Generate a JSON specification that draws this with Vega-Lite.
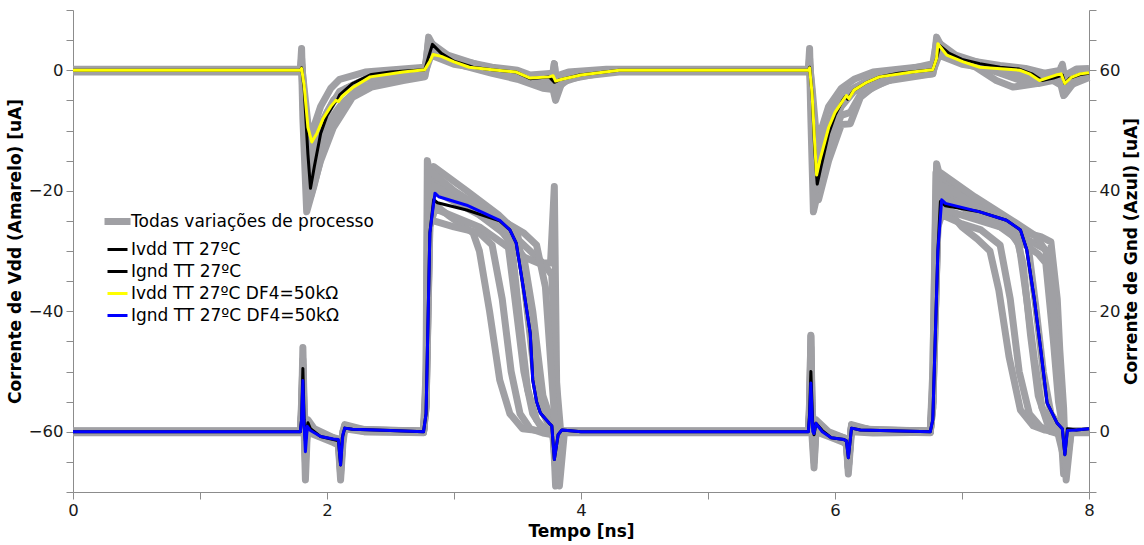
{
  "$schema": "https://vega.github.io/schema/vega-lite/v6.json",
  "width": 1016,
  "height": 482,
  "autosize": {"type": "none"},
  "padding": {"left": 73, "top": 10, "right": 55, "bottom": 53},
  "config": {
    "view": {"stroke": null},
    "font": "DejaVu Sans",
    "axis": {
      "grid": false,
      "domainColor": "#8c8c8c",
      "tickColor": "#8c8c8c",
      "tickSize": 7,
      "labelFont": "DejaVu Sans",
      "labelFontSize": 16.5,
      "labelColor": "#1a1a1a",
      "labelPadding": 3,
      "labelFlush": false,
      "labelOverlap": false,
      "titleFont": "DejaVu Sans",
      "titleFontSize": 17,
      "titleFontWeight": "bold",
      "titleColor": "#000000"
    },
    "legend": {
      "orient": "none",
      "legendX": 36,
      "legendY": 203,
      "title": null,
      "padding": 0,
      "labelFont": "DejaVu Sans",
      "labelFontSize": 17,
      "labelColor": "#000000",
      "labelLimit": 400,
      "symbolType": "stroke",
      "symbolSize": 400,
      "symbolStrokeWidth": 3,
      "rowPadding": 4,
      "labelOffset": 5
    }
  },
  "datasets": {
    "gv": [
      {"r":"G1","t":0,"i":0.1},{"r":"G1","t":1.79,"i":0.1},{"r":"G1","t":1.8,"i":3},{"r":"G1","t":1.81,"i":12},{"r":"G1","t":1.82,"i":3},{"r":"G1","t":1.83,"i":-2},{"r":"G1","t":1.85,"i":1.5},{"r":"G1","t":1.9,"i":0},{"r":"G1","t":2.05,"i":-1.5},{"r":"G1","t":2.09,"i":-2},{"r":"G1","t":2.107,"i":-7},{"r":"G1","t":2.125,"i":-1},{"r":"G1","t":2.14,"i":1},{"r":"G1","t":2.25,"i":0.4},{"r":"G1","t":2.76,"i":0.1},{"r":"G1","t":2.78,"i":5},{"r":"G1","t":2.8,"i":34},{"r":"G1","t":2.83,"i":38},{"r":"G1","t":2.95,"i":36},{"r":"G1","t":3.15,"i":33},{"r":"G1","t":3.2,"i":30},{"r":"G1","t":3.28,"i":20},{"r":"G1","t":3.36,"i":8.6},{"r":"G1","t":3.44,"i":3},{"r":"G1","t":3.54,"i":0.5},{"r":"G1","t":3.7,"i":0.1},{"r":"G1","t":3.78,"i":-0.3},{"r":"G1","t":3.8,"i":-5},{"r":"G1","t":3.83,"i":0.1},{"r":"G1","t":5.79,"i":0.1},{"r":"G1","t":5.8,"i":3},{"r":"G1","t":5.81,"i":14},{"r":"G1","t":5.82,"i":3},{"r":"G1","t":5.835,"i":-2},{"r":"G1","t":5.85,"i":1.5},{"r":"G1","t":5.9,"i":0},{"r":"G1","t":6.07,"i":-1.5},{"r":"G1","t":6.09,"i":-2},{"r":"G1","t":6.105,"i":-6},{"r":"G1","t":6.13,"i":1},{"r":"G1","t":6.25,"i":0.4},{"r":"G1","t":6.75,"i":0.1},{"r":"G1","t":6.77,"i":5},{"r":"G1","t":6.8,"i":33},{"r":"G1","t":6.84,"i":38},{"r":"G1","t":7.0,"i":34},{"r":"G1","t":7.12,"i":32},{"r":"G1","t":7.22,"i":30},{"r":"G1","t":7.29,"i":23.5},{"r":"G1","t":7.37,"i":12.5},{"r":"G1","t":7.46,"i":3.6},{"r":"G1","t":7.56,"i":1},{"r":"G1","t":7.65,"i":0.3},{"r":"G1","t":7.78,"i":0.1},{"r":"G1","t":7.81,"i":-4},{"r":"G1","t":7.84,"i":0.1},{"r":"G1","t":8,"i":0.1},
      {"r":"G2","t":0,"i":-0.1},{"r":"G2","t":1.79,"i":-0.1},{"r":"G2","t":1.8,"i":2},{"r":"G2","t":1.81,"i":7},{"r":"G2","t":1.82,"i":0},{"r":"G2","t":1.83,"i":-8},{"r":"G2","t":1.845,"i":0},{"r":"G2","t":1.9,"i":-0.5},{"r":"G2","t":2.05,"i":-1.8},{"r":"G2","t":2.09,"i":-2.2},{"r":"G2","t":2.107,"i":-8},{"r":"G2","t":2.125,"i":-2},{"r":"G2","t":2.14,"i":0.5},{"r":"G2","t":2.3,"i":0},{"r":"G2","t":2.76,"i":-0.1},{"r":"G2","t":2.78,"i":4},{"r":"G2","t":2.81,"i":35},{"r":"G2","t":2.84,"i":35},{"r":"G2","t":3.0,"i":34},{"r":"G2","t":3.2,"i":33},{"r":"G2","t":3.3,"i":31},{"r":"G2","t":3.38,"i":22},{"r":"G2","t":3.45,"i":10},{"r":"G2","t":3.52,"i":3},{"r":"G2","t":3.6,"i":0.5},{"r":"G2","t":3.7,"i":-0.2},{"r":"G2","t":3.78,"i":-0.5},{"r":"G2","t":3.8,"i":-3},{"r":"G2","t":3.83,"i":-0.1},{"r":"G2","t":5.79,"i":-0.1},{"r":"G2","t":5.8,"i":2},{"r":"G2","t":5.81,"i":9},{"r":"G2","t":5.82,"i":-1},{"r":"G2","t":5.835,"i":-6},{"r":"G2","t":5.85,"i":0},{"r":"G2","t":5.95,"i":-0.8},{"r":"G2","t":6.07,"i":-1.8},{"r":"G2","t":6.09,"i":-2.2},{"r":"G2","t":6.105,"i":-7},{"r":"G2","t":6.13,"i":0},{"r":"G2","t":6.3,"i":-0.2},{"r":"G2","t":6.75,"i":-0.1},{"r":"G2","t":6.77,"i":4},{"r":"G2","t":6.81,"i":34},{"r":"G2","t":6.84,"i":36},{"r":"G2","t":7.0,"i":34.5},{"r":"G2","t":7.15,"i":33.5},{"r":"G2","t":7.3,"i":31},{"r":"G2","t":7.38,"i":22},{"r":"G2","t":7.45,"i":10},{"r":"G2","t":7.53,"i":3},{"r":"G2","t":7.62,"i":0.8},{"r":"G2","t":7.7,"i":0},{"r":"G2","t":7.78,"i":-0.5},{"r":"G2","t":7.81,"i":-3},{"r":"G2","t":7.84,"i":-0.1},{"r":"G2","t":8,"i":-0.1},
      {"r":"G3","t":0,"i":0},{"r":"G3","t":1.79,"i":0},{"r":"G3","t":1.8,"i":4},{"r":"G3","t":1.81,"i":14},{"r":"G3","t":1.82,"i":4},{"r":"G3","t":1.835,"i":-1},{"r":"G3","t":1.85,"i":2},{"r":"G3","t":1.9,"i":0.5},{"r":"G3","t":2.05,"i":-1},{"r":"G3","t":2.09,"i":-1.5},{"r":"G3","t":2.107,"i":-5},{"r":"G3","t":2.125,"i":0},{"r":"G3","t":2.14,"i":1.2},{"r":"G3","t":2.3,"i":0.3},{"r":"G3","t":2.76,"i":0},{"r":"G3","t":2.78,"i":6},{"r":"G3","t":2.8,"i":38},{"r":"G3","t":2.84,"i":42},{"r":"G3","t":3.1,"i":38},{"r":"G3","t":3.35,"i":34},{"r":"G3","t":3.42,"i":32},{"r":"G3","t":3.48,"i":22},{"r":"G3","t":3.55,"i":10},{"r":"G3","t":3.62,"i":3},{"r":"G3","t":3.7,"i":0.3},{"r":"G3","t":3.78,"i":-0.5},{"r":"G3","t":3.8,"i":-6},{"r":"G3","t":3.84,"i":0},{"r":"G3","t":5.79,"i":0},{"r":"G3","t":5.8,"i":4},{"r":"G3","t":5.81,"i":16},{"r":"G3","t":5.82,"i":4},{"r":"G3","t":5.835,"i":-1},{"r":"G3","t":5.85,"i":2},{"r":"G3","t":5.95,"i":0},{"r":"G3","t":6.07,"i":-1},{"r":"G3","t":6.09,"i":-1.5},{"r":"G3","t":6.105,"i":-5},{"r":"G3","t":6.13,"i":1.2},{"r":"G3","t":6.3,"i":0.2},{"r":"G3","t":6.75,"i":0},{"r":"G3","t":6.77,"i":6},{"r":"G3","t":6.8,"i":38},{"r":"G3","t":6.84,"i":42},{"r":"G3","t":7.1,"i":37},{"r":"G3","t":7.35,"i":34},{"r":"G3","t":7.45,"i":31},{"r":"G3","t":7.51,"i":22},{"r":"G3","t":7.57,"i":12},{"r":"G3","t":7.63,"i":4},{"r":"G3","t":7.7,"i":1},{"r":"G3","t":7.78,"i":0},{"r":"G3","t":7.8,"i":-7},{"r":"G3","t":7.84,"i":0},{"r":"G3","t":8,"i":0},
      {"r":"G4","t":0,"i":0.15},{"r":"G4","t":1.79,"i":0.15},{"r":"G4","t":1.8,"i":2},{"r":"G4","t":1.81,"i":10},{"r":"G4","t":1.82,"i":1},{"r":"G4","t":1.83,"i":-4},{"r":"G4","t":1.845,"i":1},{"r":"G4","t":1.9,"i":0},{"r":"G4","t":2.05,"i":-1.2},{"r":"G4","t":2.09,"i":-1.6},{"r":"G4","t":2.107,"i":-6},{"r":"G4","t":2.125,"i":-1},{"r":"G4","t":2.14,"i":0.8},{"r":"G4","t":2.3,"i":0.3},{"r":"G4","t":2.76,"i":0.15},{"r":"G4","t":2.78,"i":5},{"r":"G4","t":2.8,"i":40},{"r":"G4","t":2.84,"i":44},{"r":"G4","t":3.1,"i":40},{"r":"G4","t":3.35,"i":36},{"r":"G4","t":3.5,"i":33},{"r":"G4","t":3.55,"i":25},{"r":"G4","t":3.62,"i":12},{"r":"G4","t":3.68,"i":4},{"r":"G4","t":3.75,"i":1},{"r":"G4","t":3.78,"i":0.5},{"r":"G4","t":3.8,"i":-9},{"r":"G4","t":3.84,"i":0.15},{"r":"G4","t":5.79,"i":0.15},{"r":"G4","t":5.8,"i":2},{"r":"G4","t":5.81,"i":11},{"r":"G4","t":5.82,"i":1},{"r":"G4","t":5.835,"i":-4},{"r":"G4","t":5.85,"i":1},{"r":"G4","t":5.95,"i":-0.5},{"r":"G4","t":6.07,"i":-1.2},{"r":"G4","t":6.09,"i":-1.6},{"r":"G4","t":6.105,"i":-6},{"r":"G4","t":6.13,"i":0.8},{"r":"G4","t":6.3,"i":0.3},{"r":"G4","t":6.75,"i":0.15},{"r":"G4","t":6.77,"i":5},{"r":"G4","t":6.8,"i":36},{"r":"G4","t":6.84,"i":40},{"r":"G4","t":7.2,"i":36},{"r":"G4","t":7.45,"i":33},{"r":"G4","t":7.52,"i":31},{"r":"G4","t":7.58,"i":21},{"r":"G4","t":7.64,"i":10},{"r":"G4","t":7.7,"i":3},{"r":"G4","t":7.78,"i":0.5},{"r":"G4","t":7.81,"i":-6},{"r":"G4","t":7.85,"i":0.15},{"r":"G4","t":8,"i":0.15},
      {"r":"G5","t":0,"i":-0.15},{"r":"G5","t":1.79,"i":-0.15},{"r":"G5","t":1.8,"i":3},{"r":"G5","t":1.81,"i":9},{"r":"G5","t":1.82,"i":0},{"r":"G5","t":1.83,"i":-2},{"r":"G5","t":1.85,"i":1},{"r":"G5","t":1.9,"i":-0.2},{"r":"G5","t":2.05,"i":-1.5},{"r":"G5","t":2.09,"i":-1.8},{"r":"G5","t":2.107,"i":-4},{"r":"G5","t":2.125,"i":-0.5},{"r":"G5","t":2.14,"i":0.8},{"r":"G5","t":2.3,"i":0},{"r":"G5","t":2.76,"i":-0.15},{"r":"G5","t":2.78,"i":5},{"r":"G5","t":2.81,"i":36},{"r":"G5","t":2.84,"i":40},{"r":"G5","t":3.2,"i":36},{"r":"G5","t":3.45,"i":32},{"r":"G5","t":3.55,"i":29},{"r":"G5","t":3.62,"i":20},{"r":"G5","t":3.7,"i":6},{"r":"G5","t":3.77,"i":1.5},{"r":"G5","t":3.8,"i":-6},{"r":"G5","t":3.85,"i":-0.15},{"r":"G5","t":5.79,"i":-0.15},{"r":"G5","t":5.8,"i":3},{"r":"G5","t":5.81,"i":10},{"r":"G5","t":5.82,"i":0},{"r":"G5","t":5.835,"i":-2},{"r":"G5","t":5.85,"i":1},{"r":"G5","t":5.95,"i":-0.3},{"r":"G5","t":6.07,"i":-1.5},{"r":"G5","t":6.09,"i":-1.8},{"r":"G5","t":6.105,"i":-4},{"r":"G5","t":6.13,"i":0.8},{"r":"G5","t":6.3,"i":0},{"r":"G5","t":6.75,"i":-0.15},{"r":"G5","t":6.77,"i":5},{"r":"G5","t":6.81,"i":34},{"r":"G5","t":6.84,"i":37},{"r":"G5","t":7.3,"i":34},{"r":"G5","t":7.5,"i":31},{"r":"G5","t":7.6,"i":29.5},{"r":"G5","t":7.66,"i":28},{"r":"G5","t":7.72,"i":15},{"r":"G5","t":7.76,"i":5},{"r":"G5","t":7.79,"i":1},{"r":"G5","t":7.81,"i":-5},{"r":"G5","t":7.85,"i":-0.15},{"r":"G5","t":8,"i":-0.15},
      {"r":"G6","t":0,"i":0.05},{"r":"G6","t":1.79,"i":0.05},{"r":"G6","t":1.8,"i":5},{"r":"G6","t":1.81,"i":11},{"r":"G6","t":1.82,"i":2},{"r":"G6","t":1.83,"i":-3},{"r":"G6","t":1.85,"i":1},{"r":"G6","t":1.9,"i":0},{"r":"G6","t":2.05,"i":-1.3},{"r":"G6","t":2.09,"i":-1.6},{"r":"G6","t":2.107,"i":-5},{"r":"G6","t":2.125,"i":-0.5},{"r":"G6","t":2.14,"i":1},{"r":"G6","t":2.3,"i":0.2},{"r":"G6","t":2.76,"i":0.05},{"r":"G6","t":2.78,"i":10},{"r":"G6","t":2.79,"i":45},{"r":"G6","t":2.82,"i":42},{"r":"G6","t":2.9,"i":41},{"r":"G6","t":3.2,"i":36},{"r":"G6","t":3.45,"i":33},{"r":"G6","t":3.6,"i":30},{"r":"G6","t":3.7,"i":28},{"r":"G6","t":3.76,"i":28},{"r":"G6","t":3.79,"i":40.7},{"r":"G6","t":3.81,"i":5},{"r":"G6","t":3.83,"i":-9},{"r":"G6","t":3.87,"i":0.05},{"r":"G6","t":5.79,"i":0.05},{"r":"G6","t":5.8,"i":5},{"r":"G6","t":5.81,"i":15.8},{"r":"G6","t":5.82,"i":2},{"r":"G6","t":5.835,"i":-3},{"r":"G6","t":5.85,"i":1},{"r":"G6","t":5.95,"i":-0.3},{"r":"G6","t":6.07,"i":-1.3},{"r":"G6","t":6.09,"i":-1.6},{"r":"G6","t":6.105,"i":-5},{"r":"G6","t":6.13,"i":1},{"r":"G6","t":6.3,"i":0.2},{"r":"G6","t":6.75,"i":0.05},{"r":"G6","t":6.77,"i":10},{"r":"G6","t":6.8,"i":44.5},{"r":"G6","t":6.83,"i":42},{"r":"G6","t":6.9,"i":41},{"r":"G6","t":7.14,"i":38},{"r":"G6","t":7.35,"i":35},{"r":"G6","t":7.5,"i":33},{"r":"G6","t":7.62,"i":32.4},{"r":"G6","t":7.7,"i":31.5},{"r":"G6","t":7.75,"i":22},{"r":"G6","t":7.77,"i":13.6},{"r":"G6","t":7.8,"i":4},{"r":"G6","t":7.82,"i":-8},{"r":"G6","t":7.86,"i":0.05},{"r":"G6","t":8,"i":0.05},
      {"r":"G7","t":0,"i":0},{"r":"G7","t":1.79,"i":0},{"r":"G7","t":1.8,"i":1},{"r":"G7","t":1.81,"i":6},{"r":"G7","t":1.82,"i":0},{"r":"G7","t":1.83,"i":-1},{"r":"G7","t":1.85,"i":0.5},{"r":"G7","t":1.9,"i":0},{"r":"G7","t":2.05,"i":-1},{"r":"G7","t":2.09,"i":-1.2},{"r":"G7","t":2.107,"i":-3},{"r":"G7","t":2.125,"i":0},{"r":"G7","t":2.14,"i":0.5},{"r":"G7","t":2.76,"i":0},{"r":"G7","t":2.78,"i":4},{"r":"G7","t":2.81,"i":34},{"r":"G7","t":2.85,"i":37},{"r":"G7","t":3.2,"i":34},{"r":"G7","t":3.4,"i":31},{"r":"G7","t":3.55,"i":29},{"r":"G7","t":3.72,"i":27.5},{"r":"G7","t":3.77,"i":26},{"r":"G7","t":3.8,"i":10},{"r":"G7","t":3.84,"i":0},{"r":"G7","t":5.79,"i":0},{"r":"G7","t":5.8,"i":1},{"r":"G7","t":5.81,"i":7},{"r":"G7","t":5.82,"i":0},{"r":"G7","t":5.835,"i":-1},{"r":"G7","t":5.85,"i":0.5},{"r":"G7","t":6.07,"i":-1},{"r":"G7","t":6.09,"i":-1.2},{"r":"G7","t":6.105,"i":-3},{"r":"G7","t":6.13,"i":0.5},{"r":"G7","t":6.75,"i":0},{"r":"G7","t":6.77,"i":4},{"r":"G7","t":6.81,"i":35},{"r":"G7","t":6.84,"i":39},{"r":"G7","t":7.2,"i":35},{"r":"G7","t":7.4,"i":33},{"r":"G7","t":7.55,"i":31.5},{"r":"G7","t":7.68,"i":30},{"r":"G7","t":7.74,"i":20},{"r":"G7","t":7.78,"i":6},{"r":"G7","t":7.81,"i":-2},{"r":"G7","t":7.84,"i":0},{"r":"G7","t":8,"i":0},
      {"r":"G8","t":0,"i":-0.05},{"r":"G8","t":1.79,"i":-0.05},{"r":"G8","t":1.8,"i":2},{"r":"G8","t":1.81,"i":8},{"r":"G8","t":1.82,"i":1},{"r":"G8","t":1.83,"i":-5},{"r":"G8","t":1.845,"i":0.5},{"r":"G8","t":1.9,"i":-0.3},{"r":"G8","t":2.05,"i":-1.4},{"r":"G8","t":2.09,"i":-1.7},{"r":"G8","t":2.107,"i":-6.5},{"r":"G8","t":2.125,"i":-1},{"r":"G8","t":2.14,"i":0.7},{"r":"G8","t":2.3,"i":0.1},{"r":"G8","t":2.76,"i":-0.05},{"r":"G8","t":2.78,"i":6},{"r":"G8","t":2.8,"i":36},{"r":"G8","t":2.83,"i":41},{"r":"G8","t":3.0,"i":39},{"r":"G8","t":3.25,"i":36},{"r":"G8","t":3.4,"i":33.5},{"r":"G8","t":3.46,"i":30},{"r":"G8","t":3.52,"i":18},{"r":"G8","t":3.58,"i":7},{"r":"G8","t":3.65,"i":2},{"r":"G8","t":3.72,"i":0.3},{"r":"G8","t":3.78,"i":-0.3},{"r":"G8","t":3.8,"i":-4},{"r":"G8","t":3.84,"i":-0.05},{"r":"G8","t":5.79,"i":-0.05},{"r":"G8","t":5.8,"i":2},{"r":"G8","t":5.81,"i":9},{"r":"G8","t":5.82,"i":1},{"r":"G8","t":5.835,"i":-5},{"r":"G8","t":5.85,"i":0.5},{"r":"G8","t":5.95,"i":-0.4},{"r":"G8","t":6.07,"i":-1.4},{"r":"G8","t":6.09,"i":-1.7},{"r":"G8","t":6.105,"i":-6},{"r":"G8","t":6.13,"i":0.7},{"r":"G8","t":6.3,"i":0.1},{"r":"G8","t":6.75,"i":-0.05},{"r":"G8","t":6.77,"i":5},{"r":"G8","t":6.8,"i":36},{"r":"G8","t":6.83,"i":41},{"r":"G8","t":7.0,"i":39},{"r":"G8","t":7.25,"i":36},{"r":"G8","t":7.42,"i":33},{"r":"G8","t":7.48,"i":28},{"r":"G8","t":7.54,"i":16},{"r":"G8","t":7.6,"i":6},{"r":"G8","t":7.67,"i":1.5},{"r":"G8","t":7.75,"i":0.2},{"r":"G8","t":7.81,"i":-5},{"r":"G8","t":7.85,"i":-0.05},{"r":"G8","t":8,"i":-0.05},
      {"r":"G9","t":0,"i":0.1},{"r":"G9","t":1.79,"i":0.1},{"r":"G9","t":1.8,"i":3},{"r":"G9","t":1.81,"i":10},{"r":"G9","t":1.82,"i":2},{"r":"G9","t":1.83,"i":-2.5},{"r":"G9","t":1.85,"i":1.2},{"r":"G9","t":1.9,"i":0},{"r":"G9","t":2.05,"i":-1.2},{"r":"G9","t":2.09,"i":-1.5},{"r":"G9","t":2.107,"i":-4.5},{"r":"G9","t":2.125,"i":-0.5},{"r":"G9","t":2.14,"i":0.9},{"r":"G9","t":2.3,"i":0.2},{"r":"G9","t":2.76,"i":0.1},{"r":"G9","t":2.78,"i":8},{"r":"G9","t":2.795,"i":43},{"r":"G9","t":2.83,"i":43},{"r":"G9","t":3.0,"i":40},{"r":"G9","t":3.3,"i":36},{"r":"G9","t":3.55,"i":33},{"r":"G9","t":3.65,"i":31},{"r":"G9","t":3.72,"i":24},{"r":"G9","t":3.76,"i":12},{"r":"G9","t":3.79,"i":3},{"r":"G9","t":3.81,"i":-7},{"r":"G9","t":3.85,"i":0.1},{"r":"G9","t":5.79,"i":0.1},{"r":"G9","t":5.8,"i":3},{"r":"G9","t":5.81,"i":12},{"r":"G9","t":5.82,"i":2},{"r":"G9","t":5.835,"i":-2.5},{"r":"G9","t":5.85,"i":1.2},{"r":"G9","t":5.95,"i":-0.2},{"r":"G9","t":6.07,"i":-1.2},{"r":"G9","t":6.09,"i":-1.5},{"r":"G9","t":6.105,"i":-4.5},{"r":"G9","t":6.13,"i":0.9},{"r":"G9","t":6.3,"i":0.2},{"r":"G9","t":6.75,"i":0.1},{"r":"G9","t":6.77,"i":8},{"r":"G9","t":6.795,"i":43},{"r":"G9","t":6.83,"i":43},{"r":"G9","t":7.1,"i":39},{"r":"G9","t":7.4,"i":35},{"r":"G9","t":7.58,"i":32.5},{"r":"G9","t":7.66,"i":30},{"r":"G9","t":7.72,"i":20},{"r":"G9","t":7.76,"i":8},{"r":"G9","t":7.8,"i":1},{"r":"G9","t":7.82,"i":-6},{"r":"G9","t":7.86,"i":0.1},{"r":"G9","t":8,"i":0.1}
    ],
    "vv": [
      {"r":"V1","t":0,"i":0.15},{"r":"V1","t":1.79,"i":0.15},{"r":"V1","t":1.8,"i":1},{"r":"V1","t":1.82,"i":-3},{"r":"V1","t":1.85,"i":-9},{"r":"V1","t":1.87,"i":-11},{"r":"V1","t":1.95,"i":-6},{"r":"V1","t":2.03,"i":-3},{"r":"V1","t":2.1,"i":-1.5},{"r":"V1","t":2.3,"i":-0.3},{"r":"V1","t":2.77,"i":0.5},{"r":"V1","t":2.81,"i":3.5},{"r":"V1","t":3.0,"i":1.8},{"r":"V1","t":3.3,"i":0.5},{"r":"V1","t":3.5,"i":0},{"r":"V1","t":3.6,"i":-0.8},{"r":"V1","t":3.78,"i":-0.5},{"r":"V1","t":3.8,"i":-1},{"r":"V1","t":3.9,"i":-0.3},{"r":"V1","t":4.2,"i":0.15},{"r":"V1","t":5.79,"i":0.15},{"r":"V1","t":5.8,"i":1},{"r":"V1","t":5.82,"i":-3},{"r":"V1","t":5.845,"i":-9},{"r":"V1","t":5.86,"i":-12},{"r":"V1","t":5.95,"i":-6},{"r":"V1","t":6.05,"i":-3},{"r":"V1","t":6.15,"i":-1.5},{"r":"V1","t":6.3,"i":-0.3},{"r":"V1","t":6.77,"i":0.8},{"r":"V1","t":6.81,"i":3.5},{"r":"V1","t":7.0,"i":1.8},{"r":"V1","t":7.3,"i":0.8},{"r":"V1","t":7.5,"i":0.3},{"r":"V1","t":7.65,"i":-0.5},{"r":"V1","t":7.78,"i":0},{"r":"V1","t":7.8,"i":-1},{"r":"V1","t":7.9,"i":0.2},{"r":"V1","t":8,"i":0.3},
      {"r":"V2","t":0,"i":-0.15},{"r":"V2","t":1.79,"i":-0.15},{"r":"V2","t":1.8,"i":0.5},{"r":"V2","t":1.82,"i":-4},{"r":"V2","t":1.84,"i":-11},{"r":"V2","t":1.86,"i":-14},{"r":"V2","t":1.95,"i":-9},{"r":"V2","t":2.05,"i":-5},{"r":"V2","t":2.15,"i":-3},{"r":"V2","t":2.3,"i":-1.5},{"r":"V2","t":2.6,"i":-0.6},{"r":"V2","t":2.77,"i":-0.2},{"r":"V2","t":2.82,"i":4.5},{"r":"V2","t":2.95,"i":2.5},{"r":"V2","t":3.2,"i":0.8},{"r":"V2","t":3.5,"i":-0.4},{"r":"V2","t":3.65,"i":-2},{"r":"V2","t":3.78,"i":-1.8},{"r":"V2","t":3.8,"i":-3},{"r":"V2","t":3.9,"i":-1.2},{"r":"V2","t":4.1,"i":-0.3},{"r":"V2","t":4.3,"i":-0.15},{"r":"V2","t":5.79,"i":-0.15},{"r":"V2","t":5.8,"i":0.5},{"r":"V2","t":5.82,"i":-4},{"r":"V2","t":5.84,"i":-11},{"r":"V2","t":5.86,"i":-15},{"r":"V2","t":5.95,"i":-9},{"r":"V2","t":6.05,"i":-5},{"r":"V2","t":6.1,"i":-4.5},{"r":"V2","t":6.15,"i":-3},{"r":"V2","t":6.3,"i":-1.5},{"r":"V2","t":6.6,"i":-0.5},{"r":"V2","t":6.77,"i":0},{"r":"V2","t":6.82,"i":4.5},{"r":"V2","t":6.95,"i":2.5},{"r":"V2","t":7.2,"i":0.8},{"r":"V2","t":7.4,"i":-0.5},{"r":"V2","t":7.6,"i":-1.8},{"r":"V2","t":7.75,"i":-1.2},{"r":"V2","t":7.78,"i":-0.8},{"r":"V2","t":7.81,"i":-3},{"r":"V2","t":7.9,"i":-1},{"r":"V2","t":8,"i":-0.5},
      {"r":"V3","t":0,"i":0},{"r":"V3","t":1.79,"i":0},{"r":"V3","t":1.8,"i":2},{"r":"V3","t":1.82,"i":-5},{"r":"V3","t":1.845,"i":-14},{"r":"V3","t":1.865,"i":-17},{"r":"V3","t":1.95,"i":-12},{"r":"V3","t":2.05,"i":-7.5},{"r":"V3","t":2.12,"i":-5.5},{"r":"V3","t":2.25,"i":-3},{"r":"V3","t":2.45,"i":-1.8},{"r":"V3","t":2.77,"i":-1},{"r":"V3","t":2.8,"i":5.5},{"r":"V3","t":2.85,"i":3.5},{"r":"V3","t":3.0,"i":1.5},{"r":"V3","t":3.3,"i":-0.2},{"r":"V3","t":3.6,"i":-1.8},{"r":"V3","t":3.77,"i":-2.5},{"r":"V3","t":3.79,"i":1.1},{"r":"V3","t":3.81,"i":-3},{"r":"V3","t":3.9,"i":-1.5},{"r":"V3","t":4.2,"i":-0.3},{"r":"V3","t":4.4,"i":0},{"r":"V3","t":5.79,"i":0},{"r":"V3","t":5.8,"i":2},{"r":"V3","t":5.82,"i":-5},{"r":"V3","t":5.845,"i":-14},{"r":"V3","t":5.865,"i":-18},{"r":"V3","t":5.95,"i":-12},{"r":"V3","t":6.05,"i":-7.5},{"r":"V3","t":6.12,"i":-7},{"r":"V3","t":6.2,"i":-4},{"r":"V3","t":6.4,"i":-1.8},{"r":"V3","t":6.77,"i":-0.6},{"r":"V3","t":6.8,"i":5.5},{"r":"V3","t":6.85,"i":3.5},{"r":"V3","t":7.0,"i":1.5},{"r":"V3","t":7.3,"i":-0.5},{"r":"V3","t":7.5,"i":-2},{"r":"V3","t":7.6,"i":-2.2},{"r":"V3","t":7.76,"i":-1.5},{"r":"V3","t":7.78,"i":0.5},{"r":"V3","t":7.81,"i":-4},{"r":"V3","t":7.9,"i":-1.5},{"r":"V3","t":8,"i":-1},
      {"r":"V4","t":0,"i":-0.3},{"r":"V4","t":1.79,"i":-0.3},{"r":"V4","t":1.8,"i":0.5},{"r":"V4","t":1.82,"i":-6},{"r":"V4","t":1.85,"i":-18},{"r":"V4","t":1.87,"i":-21},{"r":"V4","t":1.95,"i":-15},{"r":"V4","t":2.05,"i":-9.5},{"r":"V4","t":2.12,"i":-7.2},{"r":"V4","t":2.2,"i":-4.5},{"r":"V4","t":2.35,"i":-2.8},{"r":"V4","t":2.6,"i":-1.7},{"r":"V4","t":2.77,"i":-1.1},{"r":"V4","t":2.81,"i":3},{"r":"V4","t":2.9,"i":2},{"r":"V4","t":3.1,"i":0.6},{"r":"V4","t":3.3,"i":-0.5},{"r":"V4","t":3.5,"i":-1.5},{"r":"V4","t":3.7,"i":-3},{"r":"V4","t":3.78,"i":-3.2},{"r":"V4","t":3.8,"i":-5},{"r":"V4","t":3.85,"i":-2},{"r":"V4","t":4.0,"i":-1},{"r":"V4","t":4.3,"i":-0.3},{"r":"V4","t":5.79,"i":-0.3},{"r":"V4","t":5.8,"i":0.5},{"r":"V4","t":5.82,"i":-6},{"r":"V4","t":5.85,"i":-19},{"r":"V4","t":5.87,"i":-21.5},{"r":"V4","t":5.95,"i":-15},{"r":"V4","t":6.05,"i":-9},{"r":"V4","t":6.12,"i":-8.9},{"r":"V4","t":6.2,"i":-4.5},{"r":"V4","t":6.3,"i":-2.8},{"r":"V4","t":6.5,"i":-1.1},{"r":"V4","t":6.77,"i":-0.6},{"r":"V4","t":6.81,"i":3},{"r":"V4","t":6.9,"i":2},{"r":"V4","t":7.1,"i":0.6},{"r":"V4","t":7.27,"i":-1.7},{"r":"V4","t":7.4,"i":-2.8},{"r":"V4","t":7.59,"i":-2.2},{"r":"V4","t":7.7,"i":-1.5},{"r":"V4","t":7.78,"i":-2.5},{"r":"V4","t":7.8,"i":-4.2},{"r":"V4","t":7.85,"i":-2.5},{"r":"V4","t":8,"i":-1.2},
      {"r":"V5","t":0,"i":0.05},{"r":"V5","t":1.79,"i":0.05},{"r":"V5","t":1.8,"i":1},{"r":"V5","t":1.81,"i":-8},{"r":"V5","t":1.84,"i":-23.5},{"r":"V5","t":1.9,"i":-19},{"r":"V5","t":1.97,"i":-13},{"r":"V5","t":2.05,"i":-8},{"r":"V5","t":2.12,"i":-6},{"r":"V5","t":2.2,"i":-4},{"r":"V5","t":2.4,"i":-2},{"r":"V5","t":2.77,"i":-0.5},{"r":"V5","t":2.82,"i":2.5},{"r":"V5","t":3.0,"i":1},{"r":"V5","t":3.3,"i":0},{"r":"V5","t":3.6,"i":-1.2},{"r":"V5","t":3.77,"i":-1.5},{"r":"V5","t":3.79,"i":1.1},{"r":"V5","t":3.81,"i":-2.5},{"r":"V5","t":3.9,"i":-0.8},{"r":"V5","t":4.2,"i":0.05},{"r":"V5","t":5.79,"i":0.05},{"r":"V5","t":5.8,"i":1},{"r":"V5","t":5.81,"i":-8},{"r":"V5","t":5.83,"i":-23.5},{"r":"V5","t":5.9,"i":-17},{"r":"V5","t":5.97,"i":-10},{"r":"V5","t":6.05,"i":-6},{"r":"V5","t":6.15,"i":-3.5},{"r":"V5","t":6.3,"i":-2},{"r":"V5","t":6.6,"i":-0.5},{"r":"V5","t":6.77,"i":-0.2},{"r":"V5","t":6.82,"i":2.5},{"r":"V5","t":7.0,"i":1},{"r":"V5","t":7.3,"i":0},{"r":"V5","t":7.6,"i":-1.2},{"r":"V5","t":7.77,"i":-0.8},{"r":"V5","t":7.79,"i":1},{"r":"V5","t":7.82,"i":-2.5},{"r":"V5","t":7.9,"i":-0.6},{"r":"V5","t":8,"i":0.05},
      {"r":"V6","t":0,"i":0},{"r":"V6","t":1.79,"i":0},{"r":"V6","t":1.8,"i":3.6},{"r":"V6","t":1.81,"i":-5},{"r":"V6","t":1.85,"i":-19.9},{"r":"V6","t":1.9,"i":-14},{"r":"V6","t":2.0,"i":-7},{"r":"V6","t":2.1,"i":-3.5},{"r":"V6","t":2.3,"i":-1.5},{"r":"V6","t":2.6,"i":-0.5},{"r":"V6","t":2.77,"i":0},{"r":"V6","t":2.8,"i":4.8},{"r":"V6","t":2.9,"i":2.5},{"r":"V6","t":3.1,"i":0.8},{"r":"V6","t":3.4,"i":-0.3},{"r":"V6","t":3.65,"i":-1.5},{"r":"V6","t":3.78,"i":-1},{"r":"V6","t":3.8,"i":-2.5},{"r":"V6","t":3.9,"i":-0.8},{"r":"V6","t":4.3,"i":0},{"r":"V6","t":5.79,"i":0},{"r":"V6","t":5.8,"i":3.6},{"r":"V6","t":5.81,"i":-5},{"r":"V6","t":5.85,"i":-20},{"r":"V6","t":5.9,"i":-14},{"r":"V6","t":6.0,"i":-6},{"r":"V6","t":6.1,"i":-3.5},{"r":"V6","t":6.3,"i":-1.2},{"r":"V6","t":6.77,"i":1.1},{"r":"V6","t":6.8,"i":4.8},{"r":"V6","t":6.9,"i":2.5},{"r":"V6","t":7.1,"i":1},{"r":"V6","t":7.4,"i":0},{"r":"V6","t":7.6,"i":-1},{"r":"V6","t":7.78,"i":-0.5},{"r":"V6","t":7.8,"i":-2},{"r":"V6","t":7.9,"i":-0.3},{"r":"V6","t":8,"i":0}
    ],
    "vt": [
      {"s":"Ivdd TT 27ºC","t":0,"i":0},{"s":"Ivdd TT 27ºC","t":1.79,"i":0},{"s":"Ivdd TT 27ºC","t":1.8,"i":0.4},{"s":"Ivdd TT 27ºC","t":1.82,"i":-3},{"s":"Ivdd TT 27ºC","t":1.85,"i":-14},{"s":"Ivdd TT 27ºC","t":1.87,"i":-19.6},{"s":"Ivdd TT 27ºC","t":1.9,"i":-16},{"s":"Ivdd TT 27ºC","t":1.95,"i":-10.5},{"s":"Ivdd TT 27ºC","t":2.0,"i":-7.5},{"s":"Ivdd TT 27ºC","t":2.06,"i":-5.4},{"s":"Ivdd TT 27ºC","t":2.08,"i":-5.0},{"s":"Ivdd TT 27ºC","t":2.1,"i":-4.1},{"s":"Ivdd TT 27ºC","t":2.2,"i":-2.2},{"s":"Ivdd TT 27ºC","t":2.35,"i":-0.7},{"s":"Ivdd TT 27ºC","t":2.5,"i":-0.3},{"s":"Ivdd TT 27ºC","t":2.77,"i":0.1},{"s":"Ivdd TT 27ºC","t":2.8,"i":2.2},{"s":"Ivdd TT 27ºC","t":2.83,"i":4.3},{"s":"Ivdd TT 27ºC","t":2.9,"i":2.8},{"s":"Ivdd TT 27ºC","t":3.0,"i":1.5},{"s":"Ivdd TT 27ºC","t":3.15,"i":0.5},{"s":"Ivdd TT 27ºC","t":3.3,"i":0.1},{"s":"Ivdd TT 27ºC","t":3.49,"i":-0.3},{"s":"Ivdd TT 27ºC","t":3.6,"i":-1.4},{"s":"Ivdd TT 27ºC","t":3.75,"i":-1.1},{"s":"Ivdd TT 27ºC","t":3.79,"i":-2.0},{"s":"Ivdd TT 27ºC","t":3.83,"i":-1.6},{"s":"Ivdd TT 27ºC","t":3.99,"i":-0.8},{"s":"Ivdd TT 27ºC","t":4.3,"i":0},{"s":"Ivdd TT 27ºC","t":5.79,"i":0},{"s":"Ivdd TT 27ºC","t":5.8,"i":0.5},{"s":"Ivdd TT 27ºC","t":5.82,"i":-4},{"s":"Ivdd TT 27ºC","t":5.84,"i":-13},{"s":"Ivdd TT 27ºC","t":5.86,"i":-18.9},{"s":"Ivdd TT 27ºC","t":5.89,"i":-16},{"s":"Ivdd TT 27ºC","t":5.95,"i":-10.5},{"s":"Ivdd TT 27ºC","t":6.0,"i":-7.5},{"s":"Ivdd TT 27ºC","t":6.06,"i":-5.0},{"s":"Ivdd TT 27ºC","t":6.08,"i":-4.4},{"s":"Ivdd TT 27ºC","t":6.1,"i":-4.8},{"s":"Ivdd TT 27ºC","t":6.15,"i":-3.3},{"s":"Ivdd TT 27ºC","t":6.25,"i":-2.0},{"s":"Ivdd TT 27ºC","t":6.35,"i":-1.1},{"s":"Ivdd TT 27ºC","t":6.5,"i":-0.5},{"s":"Ivdd TT 27ºC","t":6.77,"i":0.1},{"s":"Ivdd TT 27ºC","t":6.8,"i":2.0},{"s":"Ivdd TT 27ºC","t":6.825,"i":4.1},{"s":"Ivdd TT 27ºC","t":6.9,"i":2.8},{"s":"Ivdd TT 27ºC","t":7.0,"i":1.8},{"s":"Ivdd TT 27ºC","t":7.14,"i":1.1},{"s":"Ivdd TT 27ºC","t":7.3,"i":0.5},{"s":"Ivdd TT 27ºC","t":7.45,"i":0.2},{"s":"Ivdd TT 27ºC","t":7.55,"i":-0.6},{"s":"Ivdd TT 27ºC","t":7.63,"i":-1.7},{"s":"Ivdd TT 27ºC","t":7.72,"i":-1.3},{"s":"Ivdd TT 27ºC","t":7.79,"i":-0.8},{"s":"Ivdd TT 27ºC","t":7.81,"i":-2.2},{"s":"Ivdd TT 27ºC","t":7.85,"i":-1.3},{"s":"Ivdd TT 27ºC","t":7.93,"i":-0.7},{"s":"Ivdd TT 27ºC","t":8,"i":-0.5},
      {"s":"Ivdd TT 27ºC DF4=50kΩ","t":0,"i":0},{"s":"Ivdd TT 27ºC DF4=50kΩ","t":1.79,"i":0},{"s":"Ivdd TT 27ºC DF4=50kΩ","t":1.8,"i":0.3},{"s":"Ivdd TT 27ºC DF4=50kΩ","t":1.82,"i":-2.5},{"s":"Ivdd TT 27ºC DF4=50kΩ","t":1.85,"i":-9.5},{"s":"Ivdd TT 27ºC DF4=50kΩ","t":1.88,"i":-11.9},{"s":"Ivdd TT 27ºC DF4=50kΩ","t":1.92,"i":-10.5},{"s":"Ivdd TT 27ºC DF4=50kΩ","t":1.97,"i":-8},{"s":"Ivdd TT 27ºC DF4=50kΩ","t":2.03,"i":-6},{"s":"Ivdd TT 27ºC DF4=50kΩ","t":2.07,"i":-5.0},{"s":"Ivdd TT 27ºC DF4=50kΩ","t":2.09,"i":-5.2},{"s":"Ivdd TT 27ºC DF4=50kΩ","t":2.12,"i":-4.3},{"s":"Ivdd TT 27ºC DF4=50kΩ","t":2.2,"i":-2.9},{"s":"Ivdd TT 27ºC DF4=50kΩ","t":2.34,"i":-1.1},{"s":"Ivdd TT 27ºC DF4=50kΩ","t":2.6,"i":-0.3},{"s":"Ivdd TT 27ºC DF4=50kΩ","t":2.77,"i":0.1},{"s":"Ivdd TT 27ºC DF4=50kΩ","t":2.81,"i":1.5},{"s":"Ivdd TT 27ºC DF4=50kΩ","t":2.835,"i":2.6},{"s":"Ivdd TT 27ºC DF4=50kΩ","t":2.9,"i":2.3},{"s":"Ivdd TT 27ºC DF4=50kΩ","t":3.0,"i":1.4},{"s":"Ivdd TT 27ºC DF4=50kΩ","t":3.12,"i":0.5},{"s":"Ivdd TT 27ºC DF4=50kΩ","t":3.3,"i":0.1},{"s":"Ivdd TT 27ºC DF4=50kΩ","t":3.49,"i":-0.3},{"s":"Ivdd TT 27ºC DF4=50kΩ","t":3.6,"i":-1.3},{"s":"Ivdd TT 27ºC DF4=50kΩ","t":3.75,"i":-1.1},{"s":"Ivdd TT 27ºC DF4=50kΩ","t":3.78,"i":-0.9},{"s":"Ivdd TT 27ºC DF4=50kΩ","t":3.8,"i":-1.8},{"s":"Ivdd TT 27ºC DF4=50kΩ","t":3.85,"i":-1.5},{"s":"Ivdd TT 27ºC DF4=50kΩ","t":4.0,"i":-0.8},{"s":"Ivdd TT 27ºC DF4=50kΩ","t":4.3,"i":0},{"s":"Ivdd TT 27ºC DF4=50kΩ","t":5.79,"i":0},{"s":"Ivdd TT 27ºC DF4=50kΩ","t":5.8,"i":0.4},{"s":"Ivdd TT 27ºC DF4=50kΩ","t":5.82,"i":-4},{"s":"Ivdd TT 27ºC DF4=50kΩ","t":5.84,"i":-12},{"s":"Ivdd TT 27ºC DF4=50kΩ","t":5.855,"i":-17.4},{"s":"Ivdd TT 27ºC DF4=50kΩ","t":5.88,"i":-15},{"s":"Ivdd TT 27ºC DF4=50kΩ","t":5.95,"i":-9.5},{"s":"Ivdd TT 27ºC DF4=50kΩ","t":6.0,"i":-7},{"s":"Ivdd TT 27ºC DF4=50kΩ","t":6.07,"i":-4.8},{"s":"Ivdd TT 27ºC DF4=50kΩ","t":6.09,"i":-4.2},{"s":"Ivdd TT 27ºC DF4=50kΩ","t":6.11,"i":-4.7},{"s":"Ivdd TT 27ºC DF4=50kΩ","t":6.15,"i":-3.3},{"s":"Ivdd TT 27ºC DF4=50kΩ","t":6.25,"i":-2.0},{"s":"Ivdd TT 27ºC DF4=50kΩ","t":6.35,"i":-1.1},{"s":"Ivdd TT 27ºC DF4=50kΩ","t":6.61,"i":-0.3},{"s":"Ivdd TT 27ºC DF4=50kΩ","t":6.77,"i":0.1},{"s":"Ivdd TT 27ºC DF4=50kΩ","t":6.8,"i":2.0},{"s":"Ivdd TT 27ºC DF4=50kΩ","t":6.81,"i":4.4},{"s":"Ivdd TT 27ºC DF4=50kΩ","t":6.88,"i":2.5},{"s":"Ivdd TT 27ºC DF4=50kΩ","t":7.01,"i":1.4},{"s":"Ivdd TT 27ºC DF4=50kΩ","t":7.14,"i":0.5},{"s":"Ivdd TT 27ºC DF4=50kΩ","t":7.455,"i":0},{"s":"Ivdd TT 27ºC DF4=50kΩ","t":7.53,"i":-0.6},{"s":"Ivdd TT 27ºC DF4=50kΩ","t":7.61,"i":-1.7},{"s":"Ivdd TT 27ºC DF4=50kΩ","t":7.74,"i":-0.8},{"s":"Ivdd TT 27ºC DF4=50kΩ","t":7.78,"i":-0.6},{"s":"Ivdd TT 27ºC DF4=50kΩ","t":7.81,"i":-2.2},{"s":"Ivdd TT 27ºC DF4=50kΩ","t":7.86,"i":-1.2},{"s":"Ivdd TT 27ºC DF4=50kΩ","t":7.93,"i":-0.6},{"s":"Ivdd TT 27ºC DF4=50kΩ","t":8,"i":-0.4}
    ],
    "gt": [
      {"s":"Ignd TT 27ºC","t":0,"i":0},{"s":"Ignd TT 27ºC","t":1.79,"i":0},{"s":"Ignd TT 27ºC","t":1.8,"i":2},{"s":"Ignd TT 27ºC","t":1.81,"i":10.5},{"s":"Ignd TT 27ºC","t":1.82,"i":2},{"s":"Ignd TT 27ºC","t":1.83,"i":-1.5},{"s":"Ignd TT 27ºC","t":1.85,"i":1.5},{"s":"Ignd TT 27ºC","t":1.87,"i":0.5},{"s":"Ignd TT 27ºC","t":1.95,"i":-0.8},{"s":"Ignd TT 27ºC","t":2.05,"i":-1.3},{"s":"Ignd TT 27ºC","t":2.09,"i":-1.5},{"s":"Ignd TT 27ºC","t":2.107,"i":-5.5},{"s":"Ignd TT 27ºC","t":2.12,"i":-1},{"s":"Ignd TT 27ºC","t":2.14,"i":0.6},{"s":"Ignd TT 27ºC","t":2.2,"i":0.4},{"s":"Ignd TT 27ºC","t":2.5,"i":0.2},{"s":"Ignd TT 27ºC","t":2.76,"i":0},{"s":"Ignd TT 27ºC","t":2.78,"i":3},{"s":"Ignd TT 27ºC","t":2.81,"i":33},{"s":"Ignd TT 27ºC","t":2.84,"i":38.5},{"s":"Ignd TT 27ºC","t":2.87,"i":38},{"s":"Ignd TT 27ºC","t":3.1,"i":36.8},{"s":"Ignd TT 27ºC","t":3.36,"i":35},{"s":"Ignd TT 27ºC","t":3.44,"i":33.5},{"s":"Ignd TT 27ºC","t":3.49,"i":31.3},{"s":"Ignd TT 27ºC","t":3.54,"i":24.7},{"s":"Ignd TT 27ºC","t":3.6,"i":16.4},{"s":"Ignd TT 27ºC","t":3.62,"i":8.6},{"s":"Ignd TT 27ºC","t":3.65,"i":5},{"s":"Ignd TT 27ºC","t":3.68,"i":3.1},{"s":"Ignd TT 27ºC","t":3.75,"i":1.4},{"s":"Ignd TT 27ºC","t":3.77,"i":1.0},{"s":"Ignd TT 27ºC","t":3.79,"i":-4.6},{"s":"Ignd TT 27ºC","t":3.82,"i":-0.5},{"s":"Ignd TT 27ºC","t":3.85,"i":0.3},{"s":"Ignd TT 27ºC","t":4.0,"i":0},{"s":"Ignd TT 27ºC","t":5.79,"i":0},{"s":"Ignd TT 27ºC","t":5.8,"i":3},{"s":"Ignd TT 27ºC","t":5.81,"i":10},{"s":"Ignd TT 27ºC","t":5.825,"i":1},{"s":"Ignd TT 27ºC","t":5.835,"i":-0.5},{"s":"Ignd TT 27ºC","t":5.85,"i":1.4},{"s":"Ignd TT 27ºC","t":5.9,"i":0.2},{"s":"Ignd TT 27ºC","t":5.97,"i":-1.0},{"s":"Ignd TT 27ºC","t":6.07,"i":-1.3},{"s":"Ignd TT 27ºC","t":6.09,"i":-1.5},{"s":"Ignd TT 27ºC","t":6.105,"i":-4.3},{"s":"Ignd TT 27ºC","t":6.13,"i":0.6},{"s":"Ignd TT 27ºC","t":6.2,"i":0.3},{"s":"Ignd TT 27ºC","t":6.75,"i":0},{"s":"Ignd TT 27ºC","t":6.77,"i":2},{"s":"Ignd TT 27ºC","t":6.81,"i":30},{"s":"Ignd TT 27ºC","t":6.83,"i":38.2},{"s":"Ignd TT 27ºC","t":6.87,"i":37.5},{"s":"Ignd TT 27ºC","t":7.14,"i":36.5},{"s":"Ignd TT 27ºC","t":7.35,"i":35.1},{"s":"Ignd TT 27ºC","t":7.46,"i":33.5},{"s":"Ignd TT 27ºC","t":7.51,"i":30.2},{"s":"Ignd TT 27ºC","t":7.57,"i":21.9},{"s":"Ignd TT 27ºC","t":7.62,"i":13.6},{"s":"Ignd TT 27ºC","t":7.67,"i":4.8},{"s":"Ignd TT 27ºC","t":7.75,"i":1.4},{"s":"Ignd TT 27ºC","t":7.79,"i":0.5},{"s":"Ignd TT 27ºC","t":7.81,"i":-3.8},{"s":"Ignd TT 27ºC","t":7.83,"i":0.5},{"s":"Ignd TT 27ºC","t":7.9,"i":0.3},{"s":"Ignd TT 27ºC","t":8,"i":0.5},
      {"s":"Ignd TT 27ºC DF4=50kΩ","t":0,"i":0},{"s":"Ignd TT 27ºC DF4=50kΩ","t":1.79,"i":0},{"s":"Ignd TT 27ºC DF4=50kΩ","t":1.8,"i":2},{"s":"Ignd TT 27ºC DF4=50kΩ","t":1.81,"i":8.5},{"s":"Ignd TT 27ºC DF4=50kΩ","t":1.82,"i":1},{"s":"Ignd TT 27ºC DF4=50kΩ","t":1.83,"i":-3.3},{"s":"Ignd TT 27ºC DF4=50kΩ","t":1.845,"i":0.9},{"s":"Ignd TT 27ºC DF4=50kΩ","t":1.87,"i":0.2},{"s":"Ignd TT 27ºC DF4=50kΩ","t":1.95,"i":-0.8},{"s":"Ignd TT 27ºC DF4=50kΩ","t":2.05,"i":-1.2},{"s":"Ignd TT 27ºC DF4=50kΩ","t":2.09,"i":-1.3},{"s":"Ignd TT 27ºC DF4=50kΩ","t":2.107,"i":-5.5},{"s":"Ignd TT 27ºC DF4=50kΩ","t":2.125,"i":-0.5},{"s":"Ignd TT 27ºC DF4=50kΩ","t":2.14,"i":0.6},{"s":"Ignd TT 27ºC DF4=50kΩ","t":2.2,"i":0.4},{"s":"Ignd TT 27ºC DF4=50kΩ","t":2.5,"i":0.2},{"s":"Ignd TT 27ºC DF4=50kΩ","t":2.76,"i":0},{"s":"Ignd TT 27ºC DF4=50kΩ","t":2.78,"i":3},{"s":"Ignd TT 27ºC DF4=50kΩ","t":2.81,"i":33},{"s":"Ignd TT 27ºC DF4=50kΩ","t":2.85,"i":39.6},{"s":"Ignd TT 27ºC DF4=50kΩ","t":2.88,"i":39},{"s":"Ignd TT 27ºC DF4=50kΩ","t":3.1,"i":37.6},{"s":"Ignd TT 27ºC DF4=50kΩ","t":3.36,"i":35.1},{"s":"Ignd TT 27ºC DF4=50kΩ","t":3.44,"i":33.5},{"s":"Ignd TT 27ºC DF4=50kΩ","t":3.49,"i":31.3},{"s":"Ignd TT 27ºC DF4=50kΩ","t":3.54,"i":24.7},{"s":"Ignd TT 27ºC DF4=50kΩ","t":3.6,"i":16.4},{"s":"Ignd TT 27ºC DF4=50kΩ","t":3.62,"i":8.6},{"s":"Ignd TT 27ºC DF4=50kΩ","t":3.65,"i":5},{"s":"Ignd TT 27ºC DF4=50kΩ","t":3.68,"i":3.1},{"s":"Ignd TT 27ºC DF4=50kΩ","t":3.75,"i":1.4},{"s":"Ignd TT 27ºC DF4=50kΩ","t":3.77,"i":1.0},{"s":"Ignd TT 27ºC DF4=50kΩ","t":3.79,"i":-4.6},{"s":"Ignd TT 27ºC DF4=50kΩ","t":3.82,"i":-0.5},{"s":"Ignd TT 27ºC DF4=50kΩ","t":3.85,"i":0.3},{"s":"Ignd TT 27ºC DF4=50kΩ","t":4.0,"i":0},{"s":"Ignd TT 27ºC DF4=50kΩ","t":5.79,"i":0},{"s":"Ignd TT 27ºC DF4=50kΩ","t":5.8,"i":2.5},{"s":"Ignd TT 27ºC DF4=50kΩ","t":5.81,"i":8.1},{"s":"Ignd TT 27ºC DF4=50kΩ","t":5.825,"i":0},{"s":"Ignd TT 27ºC DF4=50kΩ","t":5.835,"i":-0.3},{"s":"Ignd TT 27ºC DF4=50kΩ","t":5.85,"i":1.4},{"s":"Ignd TT 27ºC DF4=50kΩ","t":5.9,"i":0},{"s":"Ignd TT 27ºC DF4=50kΩ","t":5.97,"i":-1.0},{"s":"Ignd TT 27ºC DF4=50kΩ","t":6.07,"i":-1.3},{"s":"Ignd TT 27ºC DF4=50kΩ","t":6.09,"i":-1.5},{"s":"Ignd TT 27ºC DF4=50kΩ","t":6.105,"i":-4.3},{"s":"Ignd TT 27ºC DF4=50kΩ","t":6.13,"i":0.6},{"s":"Ignd TT 27ºC DF4=50kΩ","t":6.2,"i":0.3},{"s":"Ignd TT 27ºC DF4=50kΩ","t":6.75,"i":0},{"s":"Ignd TT 27ºC DF4=50kΩ","t":6.77,"i":2},{"s":"Ignd TT 27ºC DF4=50kΩ","t":6.81,"i":30},{"s":"Ignd TT 27ºC DF4=50kΩ","t":6.84,"i":38.5},{"s":"Ignd TT 27ºC DF4=50kΩ","t":6.87,"i":37.9},{"s":"Ignd TT 27ºC DF4=50kΩ","t":7.14,"i":36.5},{"s":"Ignd TT 27ºC DF4=50kΩ","t":7.35,"i":35.1},{"s":"Ignd TT 27ºC DF4=50kΩ","t":7.46,"i":33.5},{"s":"Ignd TT 27ºC DF4=50kΩ","t":7.51,"i":30.2},{"s":"Ignd TT 27ºC DF4=50kΩ","t":7.57,"i":21.9},{"s":"Ignd TT 27ºC DF4=50kΩ","t":7.62,"i":13.6},{"s":"Ignd TT 27ºC DF4=50kΩ","t":7.67,"i":4.8},{"s":"Ignd TT 27ºC DF4=50kΩ","t":7.75,"i":1.4},{"s":"Ignd TT 27ºC DF4=50kΩ","t":7.79,"i":0.5},{"s":"Ignd TT 27ºC DF4=50kΩ","t":7.81,"i":-3.8},{"s":"Ignd TT 27ºC DF4=50kΩ","t":7.83,"i":0.2},{"s":"Ignd TT 27ºC DF4=50kΩ","t":7.9,"i":0.3},{"s":"Ignd TT 27ºC DF4=50kΩ","t":8,"i":0.5}
    ]
  },
  "encoding": {
    "x": {
      "field": "t",
      "type": "quantitative",
      "scale": {"domain": [0, 8], "nice": false, "zero": false},
      "axis": {
        "title": "Tempo [ns]",
        "values": [0, 0.5, 1, 1.5, 2, 2.5, 3, 3.5, 4, 4.5, 5, 5.5, 6, 6.5, 7, 7.5, 8],
        "format": "d",
        "labelExpr": "datum.value % 2 === 0 ? datum.label : ''",
        "titlePadding": 5
      }
    }
  },
  "layer": [
    {
      "data": {"name": "vv"},
      "mark": {"type": "line", "stroke": "#a0a0a4", "strokeWidth": 7, "strokeJoin": "round"},
      "encoding": {
        "y": {
          "field": "i",
          "type": "quantitative",
          "scale": {"domain": [-70, 10], "nice": false, "zero": false},
          "axis": {
            "orient": "left",
            "title": "Corrente de Vdd (Amarelo) [uA]",
            "values": [-70, -65, -60, -55, -50, -45, -40, -35, -30, -25, -20, -15, -10, -5, 0, 5, 10],
            "format": "d",
            "labelExpr": "datum.value % 20 === 0 ? datum.label : ''",
            "titlePadding": 4
          }
        },
        "detail": {"field": "r"}
      }
    },
    {
      "data": {"name": "gv"},
      "mark": {"type": "line", "stroke": "#a0a0a4", "strokeWidth": 7, "strokeJoin": "round"},
      "encoding": {
        "y": {
          "field": "i",
          "type": "quantitative",
          "scale": {"domain": [-10, 70], "nice": false, "zero": false},
          "axis": {
            "orient": "right",
            "title": "Corrente de Gnd (Azul) [uA]",
            "titleAngle": 270,
            "titleBaseline": "top",
            "values": [-10, -5, 0, 5, 10, 15, 20, 25, 30, 35, 40, 45, 50, 55, 60, 65, 70],
            "format": "d",
            "labelExpr": "datum.value % 20 === 0 ? datum.label : ''",
            "titlePadding": 4
          }
        },
        "detail": {"field": "r"}
      }
    },
    {
      "data": {"name": "vt"},
      "mark": {"type": "line", "strokeWidth": 3, "strokeJoin": "round"},
      "encoding": {
        "y": {
          "field": "i",
          "type": "quantitative",
          "scale": {"domain": [-70, 10], "nice": false, "zero": false},
          "axis": null
        },
        "color": {
          "field": "s",
          "type": "nominal",
          "scale": {
            "domain": ["Todas variações de processo", "Ivdd TT 27ºC", "Ignd TT 27ºC", "Ivdd TT 27ºC DF4=50kΩ", "Ignd TT 27ºC DF4=50kΩ"],
            "range": ["#a0a0a4", "#000000", "#000000", "#ffff00", "#0000ff"]
          },
          "legend": {
            "encode": {
              "symbols": {
                "update": {
                  "strokeWidth": {"signal": "datum.value === 'Todas variações de processo' ? 7 : 3"},
                  "size": {"signal": "datum.value === 'Todas variações de processo' ? 676 : 400"}
                }
              }
            }
          }
        }
      }
    },
    {
      "data": {"name": "gt"},
      "mark": {"type": "line", "strokeWidth": 3, "strokeJoin": "round"},
      "encoding": {
        "y": {
          "field": "i",
          "type": "quantitative",
          "scale": {"domain": [-10, 70], "nice": false, "zero": false},
          "axis": null
        },
        "color": {"field": "s", "type": "nominal"}
      }
    }
  ],
  "resolve": {"scale": {"y": "independent"}, "axis": {"y": "independent"}}
}
